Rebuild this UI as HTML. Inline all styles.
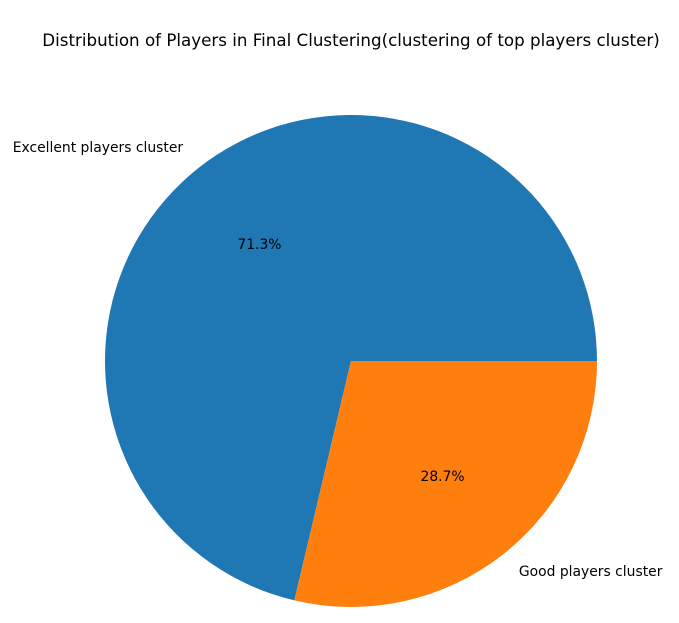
<!DOCTYPE html>
<html>
<head>
<meta charset="utf-8">
<style>
  html, body { margin: 0; padding: 0; background: #ffffff; }
  svg { display: block; font-family: "DejaVu Sans", "Liberation Sans", sans-serif; }
</style>
</head>
<body>
<svg id="chart" width="679" height="623" viewBox="0 0 679 623">
  <rect width="679" height="623" fill="#ffffff"/>
  <text x="351" y="46" text-anchor="middle" font-size="16.7" fill="#000">Distribution of Players in Final Clustering(clustering of top players cluster)</text>
  <g id="slices"></g>
  <g id="labels"></g>
</svg>
<script>
const categories = ["Excellent players cluster", "Good players cluster"];
const values = [71.3, 28.7];
const colors = ["#1f77b4", "#ff7f0e"];

const cx = 351, cy = 361, r = 246;
const NS = "http://www.w3.org/2000/svg";
const sliceG = document.getElementById("slices");
const labelG = document.getElementById("labels");
const total = values.reduce((a, b) => a + b, 0);

function pt(deg, rad) {
  const a = deg * Math.PI / 180;
  return [cx + rad * Math.cos(a), cy - rad * Math.sin(a)];
}

let start = 0;
values.forEach((v, i) => {
  const sweep = v / total * 360;
  const end = start + sweep;
  const [x1, y1] = pt(start, r);
  const [x2, y2] = pt(end, r);
  const large = sweep > 180 ? 1 : 0;
  const path = document.createElementNS(NS, "path");
  path.setAttribute("d", `M${cx},${cy} L${x1},${y1} A${r},${r} 0 ${large} 0 ${x2},${y2} Z`);
  path.setAttribute("fill", colors[i]);
  
  
  sliceG.appendChild(path);

  const mid = start + sweep / 2;
  const [lx, ly] = pt(mid, r * 1.1);
  const lab = document.createElementNS(NS, "text");
  lab.setAttribute("x", lx);
  lab.setAttribute("y", ly + 3);
  lab.setAttribute("font-size", "13.9");
  lab.setAttribute("text-anchor", Math.cos(mid * Math.PI / 180) < 0 ? "end" : "start");
  lab.textContent = categories[i];
  
  
  labelG.appendChild(lab);

  const [px, py] = pt(mid, r * 0.6);
  const pct = document.createElementNS(NS, "text");
  pct.setAttribute("x", px);
  pct.setAttribute("y", py + 4);
  pct.setAttribute("font-size", "13.9");
  pct.setAttribute("text-anchor", "middle");
  pct.textContent = (v / total * 100).toFixed(1) + "%";
  
  
  labelG.appendChild(pct);

  start = end;
});
</script>
</body>
</html>
